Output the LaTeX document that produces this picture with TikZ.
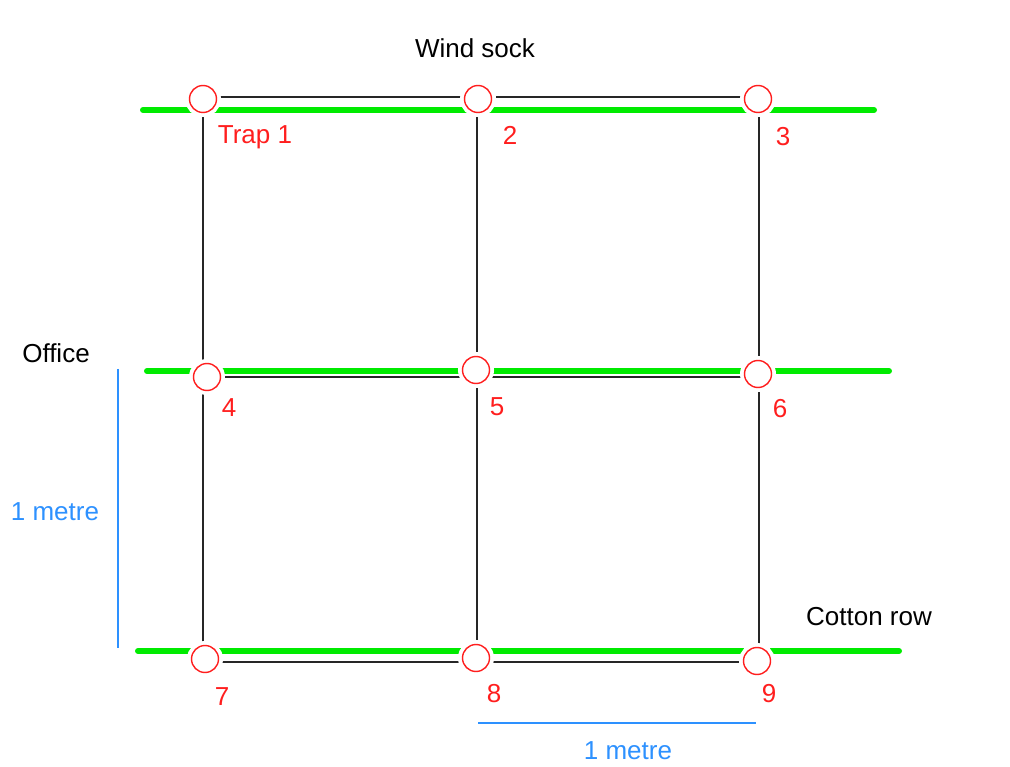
\documentclass[tikz,border=0pt]{standalone}
\usepackage{fontspec}
\setmainfont{Liberation Sans}
\usepackage{xcolor}
\usepackage{tikz}

\definecolor{rowgreen}{RGB}{0,235,0}
\definecolor{trapred}{RGB}{255,30,30}
\definecolor{scaleblue}{RGB}{45,145,255}

\begin{document}
\begin{tikzpicture}[x=1pt, y=-1pt,
    % Styles for the trap layout
    trap/.style={circle, draw=trapred, fill=white, line width=1.4pt, minimum size=27pt, inner sep=0pt, preaction={draw=white, line width=9pt}},
    trapnum/.style={text=trapred, font=\fontsize{26}{30}\selectfont, inner sep=0pt},
    place/.style={text=black, font=\fontsize{26}{30}\selectfont, inner sep=0pt},
    scalelabel/.style={text=scaleblue, font=\fontsize{26}{30}\selectfont, inner sep=0pt},
    cottonrow/.style={draw=rowgreen, line width=6pt, line cap=round},
    grid/.style={draw=black!85, line width=1.4pt},
    scaleline/.style={draw=scaleblue, line width=1.4pt}]

    \useasboundingbox (0,0) rectangle (1010,767);

    % Grid corners
    \coordinate (g11) at (203,97);  \coordinate (g12) at (477,97);  \coordinate (g13) at (759,97);
    \coordinate (g21) at (203,377); \coordinate (g22) at (477,377); \coordinate (g23) at (759,377);
    \coordinate (g31) at (203,662); \coordinate (g32) at (477,662); \coordinate (g33) at (759,662);

    % Cotton rows
    \coordinate (r1w) at (143,110); \coordinate (r1e) at (874,110);
    \coordinate (r2w) at (147,371); \coordinate (r2e) at (889,371);
    \coordinate (r3w) at (138,651); \coordinate (r3e) at (899,651);
    \path [cottonrow] (r1w) -- (r1e);
    \path [cottonrow] (r2w) -- (r2e);
    \path [cottonrow] (r3w) -- (r3e);

    % Grid lines
    \path [grid] (g11) -- (g12) -- (g13) -- (g23) -- (g33) -- (g32) -- (g31) -- (g21) -- (g11);
    \path [grid] (g21) -- (g22) -- (g23);
    \path [grid] (g12) -- (g22) -- (g32);

    % Traps
    \node [trap] (t1) at (203,99) {};
    \node [trap] (t2) at (478,99) {};
    \node [trap] (t3) at (758,99) {};
    \node [trap] (t4) at (207,377) {};
    \node [trap] (t5) at (476,370) {};
    \node [trap] (t6) at (758,374) {};
    \node [trap] (t7) at (205,659) {};
    \node [trap] (t8) at (476,658) {};
    \node [trap] (t9) at (757,661) {};

    % Trap numbers
    \node [trapnum] (n1) at (255,137) {Trap 1};
    \node [trapnum] (n2) at (510,135) {2};
    \node [trapnum] (n3) at (783,137) {3};
    \node [trapnum] (n4) at (229,408) {4};
    \node [trapnum] (n5) at (497,407) {5};
    \node [trapnum] (n6) at (780,409) {6};
    \node [trapnum] (n7) at (222,697) {7};
    \node [trapnum] (n8) at (494,694) {8};
    \node [trapnum] (n9) at (769,694) {9};

    % Surroundings
    \node [place] (windsock) at (475,48) {Wind sock};
    \node [place] (office) at (56,353) {Office};
    \node [place] (cotton) at (869,617) {Cotton row};

    % Scale bars
    \coordinate (sv1) at (118,369); \coordinate (sv2) at (118,648);
    \coordinate (sh1) at (478,723); \coordinate (sh2) at (756,723);
    \path [scaleline] (sv1) -- (sv2);
    \path [scaleline] (sh1) -- (sh2);
    \node [scalelabel] (vscale) at (55,512) {1 metre};
    \node [scalelabel] (hscale) at (628,751) {1 metre};

\end{tikzpicture}
\end{document}
